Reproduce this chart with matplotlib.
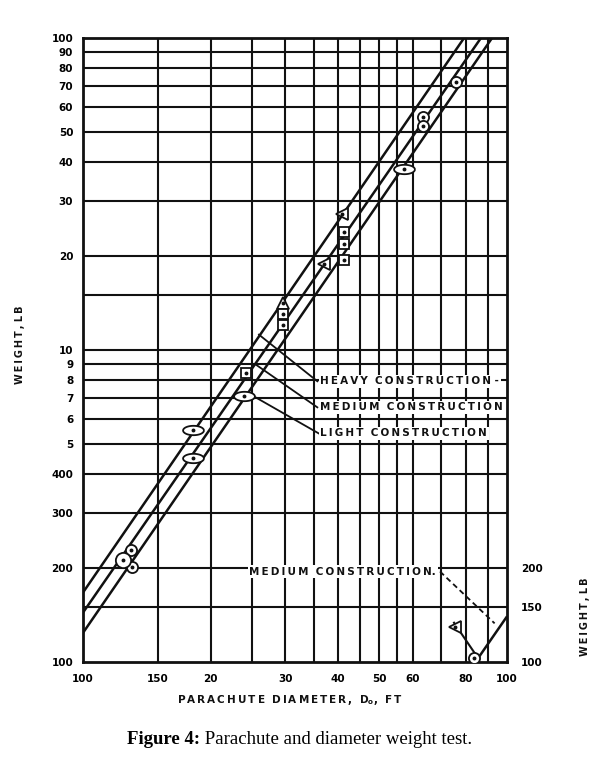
import matplotlib
matplotlib.use('Agg')
import matplotlib.pyplot as plt
import numpy as np
from matplotlib.path import Path
from matplotlib.ticker import FixedLocator, FixedFormatter, NullLocator

# ---------------- data ----------------
x_ticks = [10, 15, 20, 30, 40, 50, 60, 80, 100]
x_tick_labels = ["100", "150", "20", "30", "40", "50", "60", "80", "100"]
x_grid = [15, 20, 25, 30, 35, 40, 45, 50, 55, 60, 70, 80, 90]

y_ticks = [1, 2, 3, 4, 5, 6, 7, 8, 9, 10, 20, 30, 40, 50, 60, 70, 80, 90, 100]
y_tick_labels = ["100", "200", "300", "400", "5", "6", "7", "8", "9", "10",
                 "20", "30", "40", "50", "60", "70", "80", "90", "100"]
y_grid = [1.5, 2, 3, 4, 5, 6, 7, 8, 9, 10, 15, 20, 30, 40, 50, 60, 70, 80, 90]

right_ticks = [1, 1.5, 2]
right_tick_labels = ["100", "150", "200"]

heavy_d = [10, 79.2]
heavy_w = [1.67, 100]
medium_d = [10, 86.8]
medium_w = [1.44, 100]
light_d = [10, 92.2]
light_w = [1.24, 100]

inset_d = [84.9, 100]
inset_w = [1.015, 1.40]
inset_leader_d = [75.0, 84.5]
inset_leader_w = [1.336, 1.053]

circle_d = [12.97, 13.04, 63.4, 63.4, 75.9, 83.6]
circle_w = [2.28, 2.01, 56.0, 52.1, 72.4, 1.03]
big_circle_d = [12.42]
big_circle_w = [2.13]
ellipse_d = [18.15, 18.15, 24.0, 57.3]
ellipse_w = [5.56, 4.52, 7.1, 38.0]
flag_d = [40.9, 37.1, 75.5]
flag_w = [27.3, 18.9, 1.29]
up_d = [29.6]
up_w = [14.1]
square_d = [41.3, 41.3, 41.3, 29.6, 29.6, 24.2]
square_w = [23.9, 21.9, 19.5, 13.0, 12.0, 8.43]

# leader lines (diameter, weight) start on line -> end at label
heavy_lead_d = [26.0, 35.7]
heavy_lead_w = [11.2, 7.94]
medium_lead_d = [25.5, 35.7]
medium_lead_w = [9.0, 6.55]
light_lead_d = [24.5, 36.0]
light_lead_w = [7.28, 5.40]
label_d = 36.3
heavy_lbl_w = 7.94
medium_lbl_w = 6.55
light_lbl_w = 5.40

bottom_lbl_d = 41.0
bottom_lbl_w = 1.95
bottom_lead_d = [69.5, 93.5]
bottom_lead_w = [1.95, 1.33]

INK = '#111111'


def sp(s):
    return '\u2009'.join(s)


fig = plt.figure(figsize=(6.05, 7.6), dpi=100)
ax = fig.add_axes([83 / 605, 1 - 662 / 760, (507 - 83) / 605, (662 - 38) / 760])
ax.set_xscale('log')
ax.set_yscale('log')
ax.set_xlim(10, 100)
ax.set_ylim(1, 100)

for v in x_grid:
    ax.axvline(v, color=INK, lw=1.5, zorder=1)
for v in y_grid:
    ax.axhline(v, color=INK, lw=1.5, zorder=1)

for s in ax.spines.values():
    s.set_linewidth(2.0)
    s.set_color(INK)

ax.xaxis.set_major_locator(FixedLocator(x_ticks))
ax.xaxis.set_major_formatter(FixedFormatter(x_tick_labels))
ax.xaxis.set_minor_locator(NullLocator())
ax.yaxis.set_major_locator(FixedLocator(y_ticks))
ax.yaxis.set_major_formatter(FixedFormatter(y_tick_labels))
ax.yaxis.set_minor_locator(NullLocator())
ax.tick_params(axis='x', length=0, pad=9, labelsize=7.5)
ax.tick_params(axis='y', length=0, pad=7, labelsize=7.5)
for t in ax.get_xticklabels() + ax.get_yticklabels():
    t.set_fontweight('bold')

# main lines
for d, w in [(heavy_d, heavy_w), (medium_d, medium_w), (light_d, light_w), (inset_d, inset_w)]:
    ax.plot(d, w, color=INK, lw=1.8, zorder=3, solid_capstyle='butt', clip_on=True)
ax.plot(inset_leader_d, inset_leader_w, color=INK, lw=1.5, zorder=3)

# leaders
for d, w in [(heavy_lead_d, heavy_lead_w), (medium_lead_d, medium_lead_w), (light_lead_d, light_lead_w)]:
    ax.plot(d, w, color=INK, lw=1.3, zorder=4)
ax.plot(bottom_lead_d, bottom_lead_w, color=INK, lw=1.3, ls=(0, (3, 2)), zorder=4)

# markers
theta = np.linspace(0, 2 * np.pi, 60)
ell = Path(np.column_stack([1.0 * np.cos(theta), 0.45 * np.sin(theta)]))
mk = dict(color='white', markeredgecolor=INK, markeredgewidth=1.3, ls='none', zorder=5)
ax.plot(circle_d, circle_w, marker='o', markersize=8, **mk)
ax.plot(big_circle_d, big_circle_w, marker='o', markersize=11, **mk)
ax.plot(ellipse_d, ellipse_w, marker=ell, markersize=15, **mk)
ax.plot(flag_d, flag_w, marker='<', markersize=9, **mk)
ax.plot(up_d, up_w, marker='^', markersize=9, **mk)
ax.plot(square_d, square_w, marker='s', markersize=7, **mk)
all_d = circle_d + big_circle_d + ellipse_d + flag_d + up_d + square_d
all_w = circle_w + big_circle_w + ellipse_w + flag_w + up_w + square_w
ax.plot(all_d, all_w, marker='o', markersize=1.8, color=INK, ls='none', zorder=6)

# labels
box = dict(facecolor='white', edgecolor='none', pad=1.0)
tk = dict(fontsize=7.5, fontweight='bold', color=INK, va='center', ha='left', zorder=7, bbox=box)
ax.text(label_d, heavy_lbl_w, sp("HEAVY") + "  " + sp("CONSTRUCTION") + " -", **tk)
ax.text(label_d, medium_lbl_w, sp("MEDIUM") + "  " + sp("CONSTRUCTION"), **tk)
ax.text(label_d, light_lbl_w, sp("LIGHT") + "  " + sp("CONSTRUCTION"), **tk)
ax.text(bottom_lbl_d, bottom_lbl_w, sp("MEDIUM") + "  " + sp("CONSTRUCTION") + ".",
        fontsize=7.5, fontweight='bold', color=INK, va='center', ha='center', zorder=7, bbox=box)

ax.set_ylabel(sp("WEIGHT,") + " " + sp("LB"), fontsize=7, fontweight='bold', color=INK)
ax.yaxis.set_label_coords(-0.137, 0.508)
ax.set_xlabel(sp("PARACHUTE") + "  " + sp("DIAMETER,") + "  " + sp("D") + r"$_\mathregular{o}$" + ",  " + sp("FT"),
              fontsize=7.5, fontweight='bold', color=INK)
ax.xaxis.set_label_coords(0.488, -0.050)

ax2 = ax.twinx()
ax2.set_yscale('log')
ax2.set_ylim(1, 100)
ax2.yaxis.set_major_locator(FixedLocator(right_ticks))
ax2.yaxis.set_major_formatter(FixedFormatter(right_tick_labels))
ax2.yaxis.set_minor_locator(NullLocator())
ax2.tick_params(axis='y', length=0, pad=10, labelsize=7.5)
for t in ax2.get_yticklabels():
    t.set_fontweight('bold')
for s in ax2.spines.values():
    s.set_visible(False)
ax2.set_ylabel(sp("WEIGHT,") + " " + sp("LB"), fontsize=7, fontweight='bold', color=INK, rotation=90)
ax2.yaxis.set_label_coords(1.172, 0.072)

# caption
cap1 = fig.text(127 / 605, 1 - 744 / 760, "Figure 4:", fontsize=13.5, fontweight='bold',
                family='Liberation Serif', color='black', ha='left', va='baseline')
fig.canvas.draw()
ax.annotate(" Parachute and diameter weight test.", xy=(1, 0), xycoords=cap1,
            fontsize=13.5, family='Liberation Serif', color='black', ha='left', va='bottom',
            annotation_clip=False)

fig.savefig('out.png', dpi=100)
